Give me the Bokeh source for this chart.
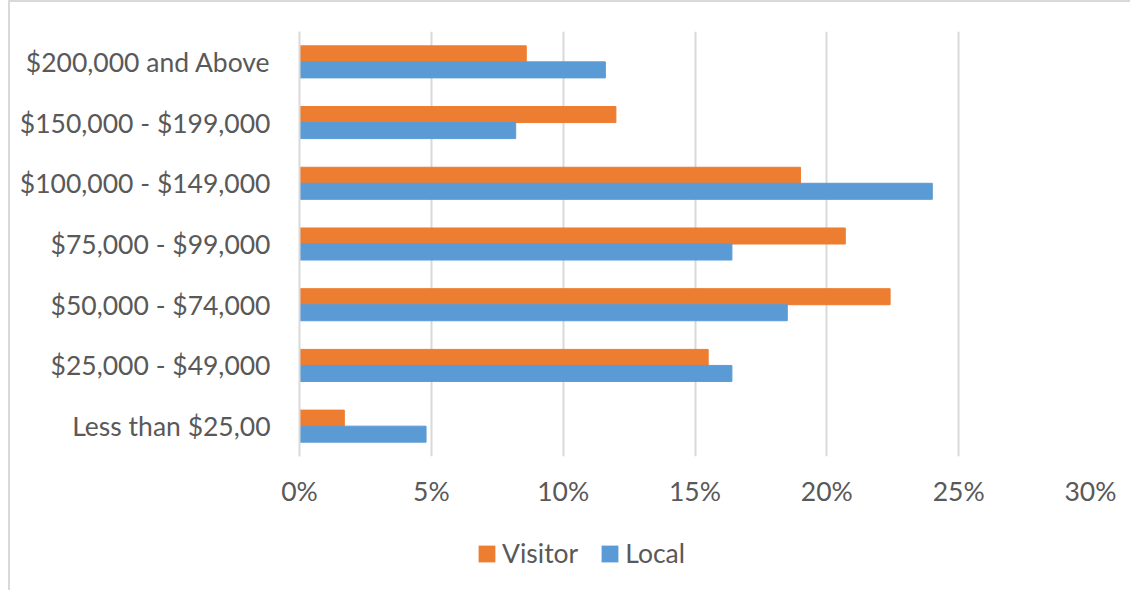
from bokeh.plotting import figure
from bokeh.layouts import column
from bokeh.models import FactorRange, Range1d, FixedTicker, PrintfTickFormatter, Legend, LegendItem, ColumnDataSource
from bokeh.transform import dodge
from bokeh.embed import file_html
from bokeh.resources import INLINE

categories = ["Less than $25,00", "$25,000 - $49,000", "$50,000 - $74,000",
              "$75,000 - $99,000", "$100,000 - $149,000", "$150,000 - $199,000",
              "$200,000 and Above"]
visitor = [1.7, 15.5, 22.4, 20.7, 19.0, 12.0, 8.6]
local = [4.8, 16.4, 18.5, 16.4, 24.0, 8.2, 11.6]
x_ticks = [0, 5, 10, 15, 20, 25, 30]
series_names = ["Visitor", "Local"]
series_fields = ["visitor", "local"]
series_colors = ["#ED7D31", "#5B9BD5"]

FONT = "Lato"
FS = "26.5px"
TXT = "#595959"
GRID = "#d9d9d9"

src = ColumnDataSource(dict(cat=categories, visitor=visitor, local=local))

p = figure(width=1120, height=528, y_range=FactorRange(*categories),
           x_range=Range1d(0, 30), output_backend="svg", toolbar_location=None,
           min_border_left=289, min_border_right=40, min_border_top=29, min_border_bottom=74)

bw = 0.264
p.hbar(y=dodge("cat", bw / 2, range=p.y_range), right="visitor", left=0, height=bw,
       source=src, color=series_colors[0])
p.hbar(y=dodge("cat", -bw / 2, range=p.y_range), right="local", left=0, height=bw,
       source=src, color=series_colors[1])

p.outline_line_color = None
p.ygrid.grid_line_color = None
p.xgrid.grid_line_color = GRID
p.xgrid.grid_line_width = 2

p.xaxis.ticker = FixedTicker(ticks=x_ticks)
p.xaxis.formatter = PrintfTickFormatter(format="%d%%")
p.xaxis.axis_line_color = None
p.xaxis.major_tick_line_color = None
p.xaxis.minor_tick_line_color = None
p.xaxis.major_tick_out = 0
p.xaxis.major_label_standoff = 18
p.xaxis.major_label_text_font = FONT
p.xaxis.major_label_text_font_size = FS
p.xaxis.major_label_text_color = TXT

p.yaxis.axis_line_color = GRID
p.yaxis.axis_line_width = 2
p.yaxis.major_tick_line_color = None
p.yaxis.minor_tick_line_color = None
p.yaxis.major_tick_out = 0
p.yaxis.major_label_standoff = 29
p.yaxis.major_label_text_font = FONT
p.yaxis.major_label_text_font_size = FS
p.yaxis.major_label_text_color = TXT

# legend strip below the chart (its bars have zero height and lie outside its visible range)
lf = figure(width=1120, height=60, output_backend="svg", toolbar_location=None,
            x_range=Range1d(-2, -1), y_range=Range1d(0, 1),
            x_axis_location=None, y_axis_location=None, min_border=0)
lf.outline_line_color = None
lf.xgrid.visible = False
lf.ygrid.visible = False
items = []
for name, fld, col in zip(series_names, series_fields, series_colors):
    r = lf.hbar(y=0.5, right=fld, left=0, height=0, source=src,
                fill_color=col, line_color=col, line_alpha=0)
    items.append(LegendItem(label=name, renderers=[r]))

legend = Legend(items=items, orientation="horizontal", location=(177, 21),
                border_line_color=None, background_fill_alpha=0,
                padding=0, margin=0, spacing=21, label_standoff=5,
                glyph_width=21, glyph_height=21,
                label_text_font=FONT, label_text_font_size=FS, label_text_color=TXT)
lf.add_layout(legend, "center")

layout = column(p, lf, spacing=0,
                styles={"margin-left": "8px", "border-left": "2px solid #d9d9d9",
                        "border-top": "2px solid #d9d9d9"})

open("out.html", "w").write(file_html(layout, INLINE))
